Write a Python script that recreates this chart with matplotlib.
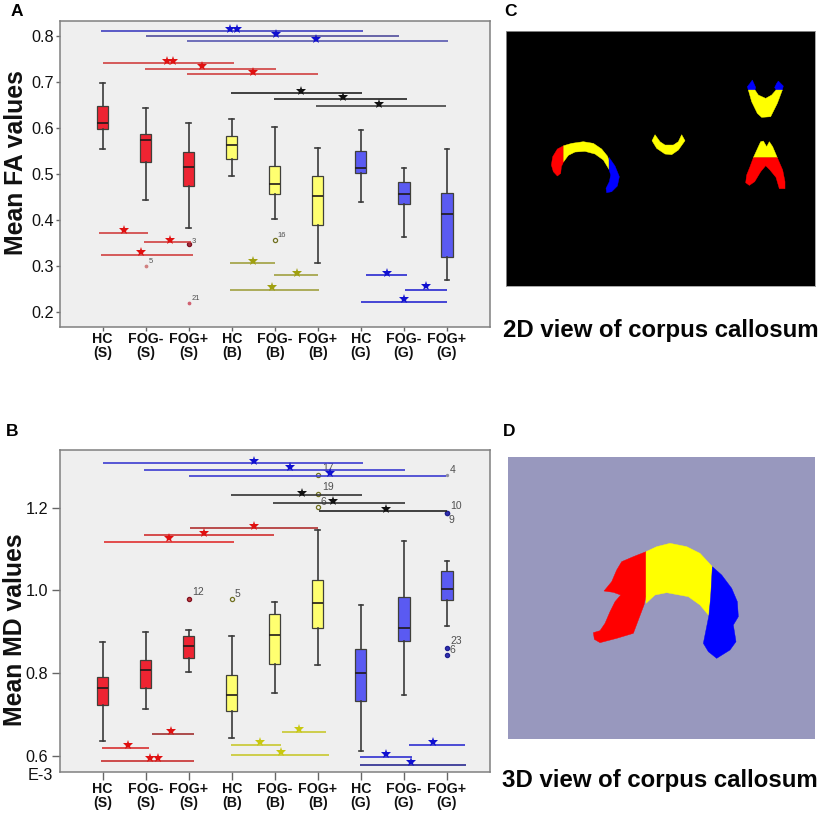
import matplotlib
matplotlib.use("Agg")
import matplotlib.pyplot as plt
from matplotlib.patches import Polygon

plt.rcParams['font.family'] = ['Liberation Sans', 'DejaVu Sans']
W, H = 829, 816

categories = ['HC\n(S)', 'FOG-\n(S)', 'FOG+\n(S)', 'HC\n(B)', 'FOG-\n(B)', 'FOG+\n(B)', 'HC\n(G)', 'FOG-\n(G)', 'FOG+\n(G)']
RED, YEL, BLU = '#EE2432', '#FFFF70', '#5A5AF2'
box_colors = [RED]*3 + [YEL]*3 + [BLU]*3

# whislo, q1, med, q3, whishi
fa_boxes = [
    (0.555, 0.597, 0.612, 0.647, 0.697), (0.443, 0.526, 0.574, 0.587, 0.644), (0.382, 0.475, 0.516, 0.547, 0.610),
    (0.497, 0.532, 0.563, 0.583, 0.619), (0.403, 0.456, 0.479, 0.518, 0.602), (0.308, 0.390, 0.453, 0.497, 0.557),
    (0.440, 0.503, 0.513, 0.550, 0.596), (0.364, 0.435, 0.456, 0.482, 0.513), (0.271, 0.321, 0.413, 0.458, 0.554),
]
md_boxes = [
    (0.635, 0.723, 0.765, 0.790, 0.876), (0.713, 0.764, 0.808, 0.831, 0.900), (0.802, 0.837, 0.866, 0.889, 0.905),
    (0.642, 0.708, 0.748, 0.795, 0.890), (0.752, 0.822, 0.892, 0.944, 0.971), (0.819, 0.908, 0.969, 1.025, 1.147),
    (0.612, 0.732, 0.800, 0.857, 0.964), (0.748, 0.877, 0.908, 0.985, 1.119), (0.915, 0.977, 1.004, 1.047, 1.071),
]
# category, value, label, label dx (pixels), label dy (pixels), edge colour, face colour, marker, size
fa_outliers = [
    (1, 0.301, '5', 3, 4, '#D08080', '#D08080', 'o', 1.8), (2, 0.221, '21', 3, 4, '#D06070', '#D06070', 'o', 1.8),
    (2, 0.348, '3', 3, 3, '#801020', '#A03040', 'o', 3), (4, 0.358, '16', 3, 4, '#707020', 'none', 'o', 3),
]
md_outliers = [
    (2, 0.979, '12', 3, 7, '#801020', '#C04040', 'o', 3), (3, 0.978, '5', 3, 5, '#707020', 'none', 'o', 3),
    (5, 1.279, '17', 4, 7, '#707020', 'none', 'o', 3), (5, 1.234, '19', 4, 7, '#707020', 'none', 'o', 3),
    (5, 1.201, '6', 3, 5, '#707020', 'none', 'o', 3), (8, 1.279, '4', 3, 5, '#9090A0', '#9090A0', 'o', 1.5),
    (8, 1.188, '10', 3, 7, '#202090', '#3030B0', 'o', 3), (8, 1.188, '9', 2, -7, '#202090', '#3030B0', 'o', 3),
    (8, 0.860, '23', 3, 7, '#202090', '#3030B0', 'o', 3), (8, 0.843, '6', 3, 5, '#202090', '#3030B0', 'o', 3),
]
# x0, x1, y, star positions, star y, line colour, star colour
L_BLU, L_RED, L_BLK, L_OLV = '#4040C0', '#D04040', '#222222', '#A0A040'
fa_sig = [
    (-0.04, 6.04, 0.811, (2.96, 3.12), 0.815, L_BLU, '#1010D0'), (1.00, 6.88, 0.801, (4.02,), 0.805, '#504C9C', '#1010D0'),
    (1.97, 8.02, 0.790, (4.96,), 0.794, '#5858B0', '#1010D0'),
    (0.01, 3.05, 0.741, (1.49, 1.64), 0.746, L_RED, '#E01010'), (0.98, 4.03, 0.728, (2.31,), 0.734, L_RED, '#E01010'),
    (1.97, 5.01, 0.7175, (3.50,), 0.722, L_RED, '#E01010'),
    (2.99, 6.02, 0.676, (4.60,), 0.681, L_BLK, '#111111'), (3.99, 7.07, 0.6625, (5.59,), 0.668, L_BLK, '#111111'),
    (4.95, 7.98, 0.648, (6.43,), 0.653, '#444444', '#111111'),
    (-0.08, 1.06, 0.373, (0.50,), 0.379, L_RED, '#E01010'), (0.95, 2.05, 0.353, (1.57,), 0.358, L_RED, '#E01010'),
    (-0.05, 2.09, 0.325, (0.89,), 0.330, L_RED, '#E01010'),
    (2.95, 4.01, 0.306, (3.49,), 0.312, L_OLV, '#A0A010'), (3.98, 5.01, 0.281, (4.52,), 0.286, L_OLV, '#A0A010'),
    (2.95, 5.03, 0.249, (3.93,), 0.255, L_OLV, '#A0A010'),
    (6.13, 7.07, 0.281, (6.61,), 0.286, '#2828D0', '#1010D0'), (7.02, 8.01, 0.249, (7.52,), 0.256, '#2828D0', '#1010D0'),
    (6.01, 8.01, 0.222, (6.99,), 0.228, '#2828D0', '#1010D0'),
]
md_sig = [
    (0.00, 6.05, 1.308, (3.51,), 1.314, '#3C3CD0', '#1010D0'), (0.97, 7.02, 1.292, (4.36,), 1.299, '#3C3CD0', '#1010D0'),
    (2.01, 7.98, 1.276, (5.29,), 1.285, '#3C3CD0', '#1010D0'),
    (2.98, 6.02, 1.231, (4.64,), 1.236, '#333333', '#111111'), (3.96, 7.03, 1.211, (5.36,), 1.217, '#333333', '#111111'),
    (5.02, 8.00, 1.191, (6.59,), 1.197, '#222222', '#111111'),
    (2.04, 5.00, 1.151, (3.51,), 1.156, '#B03030', '#E01010'), (0.97, 3.98, 1.133, (2.36,), 1.140, '#D03030', '#E01010'),
    (0.02, 3.04, 1.117, (1.54,), 1.127, '#E03030', '#E01010'),
    (-0.02, 1.07, 0.619, (0.58,), 0.627, '#D83030', '#E01010'), (1.14, 2.12, 0.653, (1.58,), 0.660, '#A03030', '#E01010'),
    (-0.04, 2.12, 0.587, (1.10, 1.28), 0.594, '#C83030', '#E01010'),
    (2.98, 4.15, 0.627, (3.66,), 0.633, '#C8C830', '#C8C810'), (4.16, 5.19, 0.657, (4.57,), 0.664, '#C8C830', '#C8C810'),
    (2.98, 5.25, 0.602, (4.14,), 0.610, '#C8C830', '#C8C810'),
    (5.98, 7.19, 0.598, (6.59,), 0.605, '#3030D0', '#1010D0'), (7.12, 8.42, 0.627, (7.68,), 0.633, '#3030D0', '#1010D0'),
    (5.97, 8.44, 0.577, (7.16,), 0.585, '#2A2A90', '#1010D0'),
]

# Illustration outlines in the panel's own outline units
c_shapes = [
    ('#FF0000', [(191,437),(172,447),(158,470),(154,495),(160,515),(172,528),(182,520),(184,500),(191,485)]),
    ('#FFFF00', [(191,437),(215,430),(250,425),(280,430),(305,447),(322,468),(327,480),(327,508),(310,480),(285,462),(255,454),(225,456),(205,466),(191,485)]),
    ('#0000FF', [(327,472),(345,498),(358,530),(352,558),(335,575),(320,578),(318,565),(328,545),(332,525),(327,508)]),
    ('#FFFF00', [(465,404),(480,425),(495,435),(520,435),(535,425),(545,404),(555,422),(535,450),(515,464),(495,462),(470,445),(456,422)]),
    ('#0000FF', [(757,240),(767,262),(765,270),(745,270),(742,260),(750,250)]),
    ('#0000FF', [(835,243),(850,258),(847,270),(828,270),(824,262),(830,250)]),
    ('#FFFF00', [(745,270),(765,270),(775,285),(797,295),(815,285),(828,270),(847,270),(832,310),(812,350),(785,352),(772,340),(755,305)]),
    ('#FFFF00', [(790,423),(800,440),(808,425),(818,440),(832,473),(760,473),(775,440),(782,425)]),
    ('#FF0000', [(760,473),(832,473),(848,510),(855,545),(855,566),(838,566),(828,532),(810,510),(797,497),(782,515),(764,545),(748,556),(737,548),(740,525),(750,500)]),
]
d_shapes = [
    ('#FF0000', [(438,395),(400,410),(365,425),(350,450),(335,485),(312,513),(340,517),(362,525),(345,545),(330,575),(315,610),(300,632),(280,638),(283,658),(300,668),(350,655),(400,640),(415,600),(432,555),(438,530)]),
    ('#FFFF00', [(438,395),(470,380),(510,370),(560,380),(600,400),(637,440),(632,530),(625,585),(600,555),(565,530),(500,518),(465,525),(438,550)]),
    ('#0000FF', [(637,440),(665,465),(695,505),(712,545),(715,590),(700,615),(708,665),(690,690),(650,715),(625,695),(610,670),(620,620),(627,585),(632,530)]),
]


def make_axes(x0, x1, y0, y1):
    return fig.add_axes([x0/W, 1-y1/H, (x1-x0)/W, (y1-y0)/H])


def ftext(x, y, s, **kw):
    kw.setdefault('ha', 'left')
    kw.setdefault('va', 'center')
    fig.text(x/W, 1-y/H, s, **kw)


def box_panel(ax, boxes, outliers, sig, ylim, yticks, ticklen, xpad, ypad, labsize):
    stats = [dict(whislo=b[0], q1=b[1], med=b[2], q3=b[3], whishi=b[4], fliers=[]) for b in boxes]
    art = ax.bxp(stats, positions=range(9), widths=0.26, patch_artist=True, showfliers=False, manage_ticks=False,
                 capwidths=0.11,
                 boxprops=dict(linewidth=0.9, edgecolor='#40403A'), medianprops=dict(color='#201A1A', linewidth=1.2),
                 whiskerprops=dict(color='#3A3A3A', linewidth=1.2), capprops=dict(color='#3A3A3A', linewidth=1.2), zorder=2)
    for b, c in zip(art['boxes'], box_colors):
        b.set_facecolor(c)
    for cat, val, lab, dx, dy, col, face, mk, ms in outliers:
        ax.plot([cat], [val], marker=mk, ms=ms, mfc=face, mec=col, mew=0.9, ls='none', zorder=3)
        ax.annotate(lab, (cat, val), xytext=(dx*0.72, dy*0.72), textcoords='offset points', fontsize=labsize, color='#505050', va='center')
    for x0, x1, y, stars, sy, lc, sc in sig:
        ax.plot([x0, x1], [y, y], color=lc, lw=1.2, solid_capstyle='butt', zorder=4)
        ax.plot(list(stars), [sy]*len(stars), ls='none', marker='*', ms=7, color=sc, mew=0, zorder=5)
    ax.set_xlim(-0.992, 9.0)
    ax.set_ylim(*ylim)
    ax.set_facecolor('#EFEFEF')
    for s in ax.spines.values():
        s.set_color('#808080')
        s.set_linewidth(1.1)
    ax.set_xticks(range(9))
    ax.set_xticklabels(categories, fontsize=10.2, fontweight='bold', color='#111111', linespacing=1.03)
    ax.set_yticks(yticks)
    ax.set_yticklabels([f'{t:.1f}' for t in yticks], fontsize=11.7, color='#111111')
    ax.tick_params(axis='both', color='#666666', width=1, length=ticklen)
    ax.tick_params(axis='x', pad=xpad)
    ax.tick_params(axis='y', pad=ypad)


fig = plt.figure(figsize=(W/100, H/100), dpi=100)

ax_a = make_axes(60, 490, 21, 327)
box_panel(ax_a, fa_boxes, fa_outliers, fa_sig, (0.168, 0.8326), [0.2, 0.3, 0.4, 0.5, 0.6, 0.7, 0.8], 3, 0.5, 1.5, 5.5)
ax_b = make_axes(60, 490, 450.3, 771.7)
box_panel(ax_b, md_boxes, md_outliers, md_sig, (0.5613, 1.339), [0.6, 0.8, 1.0, 1.2], 6, 1.5, 2.5, 7.5)

ftext(16.5, 162.5, 'Mean FA values', rotation=90, ha='center', fontsize=17.8, fontweight='bold', color='#111111')
ftext(15.5, 629.5, 'Mean MD values', rotation=90, ha='center', fontsize=17.8, fontweight='bold', color='#111111')
ftext(28, 776, 'E-3', fontsize=11.7, color='#111111')
ftext(11, 12, 'A', fontsize=12.5, fontweight='bold')
ftext(6, 431, 'B', fontsize=12.5, fontweight='bold')
ftext(504, 11, 'C', fontsize=12.5, fontweight='bold')
ftext(503, 431, 'D', fontsize=12.5, fontweight='bold')

ax_c = make_axes(505.7, 815, 30.7, 285.7)
ax_c.set_facecolor('black')
ax_c.set_xlim(17, 945)
ax_c.set_ylim(857, 92)
for col, pts in c_shapes:
    ax_c.add_patch(Polygon(pts, closed=True, fc=col, ec=col, lw=0.3))
ax_c.set_xticks([])
ax_c.set_yticks([])
for s in ax_c.spines.values():
    s.set_color('#999999')
    s.set_linewidth(0.6)

ax_d = make_axes(507.7, 815, 457, 739)
ax_d.set_facecolor('#9898BE')
ax_d.set_xlim(23, 945)
ax_d.set_ylim(957, 111)
for col, pts in d_shapes:
    ax_d.add_patch(Polygon(pts, closed=True, fc=col, ec=col, lw=0.3))
ax_d.set_xticks([])
ax_d.set_yticks([])
for s in ax_d.spines.values():
    s.set_visible(False)

ftext(503.5, 330, '2D view of corpus callosum', fontsize=17.3, fontweight='bold', color='#050505')
ftext(502.5, 780, '3D view of corpus callosum', fontsize=17.3, fontweight='bold', color='#050505')

fig.savefig('out.png', dpi=100)
